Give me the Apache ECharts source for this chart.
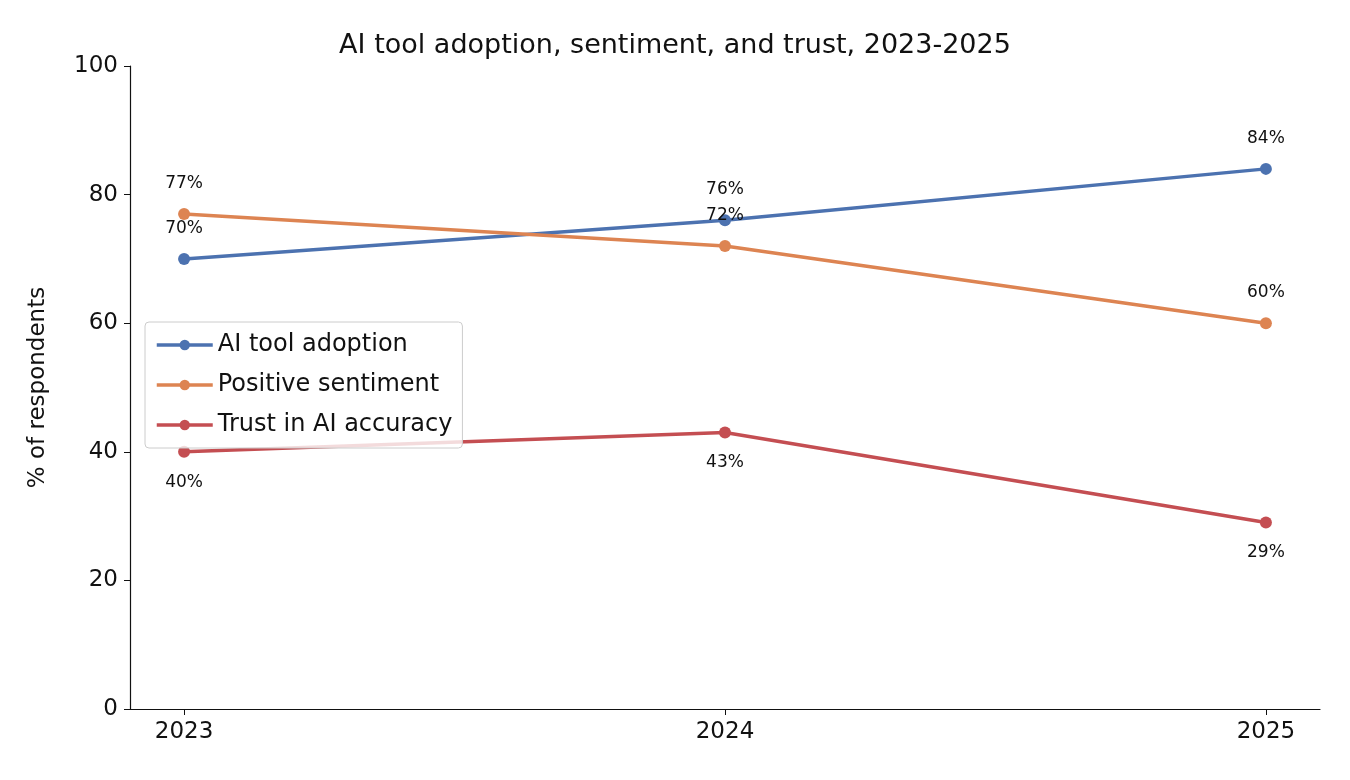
<!DOCTYPE html>
<html><head><meta charset="utf-8">
<script src="https://cdn.jsdelivr.net/npm/echarts@6/dist/echarts.min.js"></script>
<style>html,body{margin:0;padding:0;background:#fff}#c{width:1350px;height:780px}</style>
</head><body><div id="c"></div>
<script>
const years = [2023, 2024, 2025];
const adoption = [70, 76, 84];
const sentiment = [77, 72, 60];
const trust = [40, 43, 29];
const yTicks = [0, 20, 40, 60, 80, 100];

const chart = echarts.init(document.getElementById('c'));
const F = 'DejaVu Sans';
function mk(name, vals, color, pos, dist) {
  return {
    name, type: 'line', data: years.map((y, i) => [y, vals[i]]),
    symbol: 'circle', symbolSize: 12, lineStyle: {width: 3.5, color}, itemStyle: {color},
    label: {show: true, position: pos, distance: dist, formatter: p => p.value[1] + '%',
      fontFamily: F, fontSize: 17, color: '#111'}, z: 2
  };
}
chart.setOption({
  animation: false,
  textStyle: {fontFamily: F},
  title: {text: 'AI tool adoption, sentiment, and trust, 2023-2025', left: 'center', top: 27,
    textStyle: {fontFamily: F, fontSize: 27, fontWeight: 'normal', color: '#111'}},
  grid: {left: 130, right: 30, top: 66, bottom: 71, containLabel: false},
  xAxis: {type: 'value', min: 2022.9, max: 2025.1,
    axisLine: {lineStyle: {color: '#111', width: 1.2}},
    axisTick: {show: true, customValues: years, length: 6, lineStyle: {color: '#111'}},
    axisLabel: {customValues: years, formatter: v => String(v), fontSize: 23, color: '#111', margin: 12, fontFamily: F},
    splitLine: {show: false}},
  yAxis: {type: 'value', min: 0, max: 100, interval: 20, name: '% of respondents',
    nameLocation: 'middle', nameGap: 80, nameTextStyle: {fontSize: 23, color: '#111', fontFamily: F},
    axisLine: {show: true, lineStyle: {color: '#111', width: 1.2}},
    axisTick: {show: true, length: 6, lineStyle: {color: '#111'}},
    axisLabel: {fontSize: 23, color: '#111', margin: 12, fontFamily: F},
    splitLine: {show: false}},
  legend: {orient: 'vertical', left: 145, top: 322, backgroundColor: 'rgba(255,255,255,0.8)',
    borderColor: '#ccc', borderWidth: 1, borderRadius: 4, padding: [11, 10, 11, 10],
    itemWidth: 56, itemHeight: 13, itemGap: 16, z: 10,
    lineStyle: {width: 3.5},
    textStyle: {fontSize: 24, color: '#111', fontFamily: F},
    data: ['AI tool adoption', 'Positive sentiment', 'Trust in AI accuracy']},
  series: [
    mk('AI tool adoption', adoption, '#4c72b0', 'top', 16),
    mk('Positive sentiment', sentiment, '#dd8452', 'top', 16),
    mk('Trust in AI accuracy', trust, '#c44e52', 'bottom', 16)
  ]
});
</script></body></html>
